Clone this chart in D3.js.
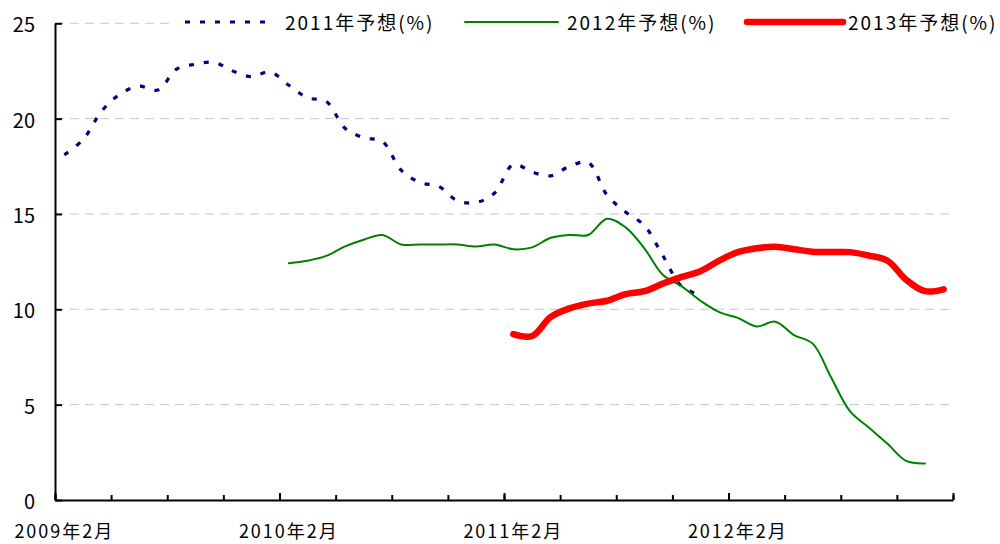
<!DOCTYPE html>
<html>
<head>
<meta charset="utf-8">
<script src="https://cdn.jsdelivr.net/npm/d3@7"></script>
<style>
  body { margin: 0; background: #fff; }
  text { font-family: "Noto Sans CJK JP", "Noto Sans", sans-serif; fill: #000; }
</style>
</head>
<body>
<svg id="chart" width="1000" height="544"></svg>
<script>
// months 2009年2月 .. 2013年1月 (one category per month)
var months = d3.timeMonth.range(new Date(2009, 1, 1), new Date(2013, 1, 1));
var xLabelIdx = [0, 12, 24, 36];
var yTicks = [0, 5, 10, 15, 20, 25];

var seriesNames = ["2011年予想(%)", "2012年予想(%)", "2013年予想(%)"];

// forecasts, first value is the first month that series appears
var f2011Start = 0;
var f2011 = [18.1, 18.9, 20.4, 21.3, 21.7, 21.5, 22.6, 22.85, 22.95, 22.5, 22.2, 22.45,
             21.75, 21.1, 20.9, 19.5, 19.0, 18.8, 17.3, 16.65, 16.45, 15.7, 15.6, 16.1,
             17.6, 17.2, 17.0, 17.5, 17.7, 16.0, 15.1, 14.4, 12.8, 11.2, 10.75];
var f2012Start = 12;
var f2012 = [12.42, 12.55, 12.8, 13.3, 13.65, 13.9, 13.4, 13.4, 13.4, 13.4, 13.3, 13.4,
             13.15, 13.25, 13.75, 13.9, 13.9, 14.75, 14.3, 13.2, 11.8, 11.2, 10.45, 9.85,
             9.55, 9.1, 9.35, 8.65, 8.2, 6.4, 4.65, 3.8, 2.95, 2.05, 1.92];
var f2013Start = 24;
var f2013 = [8.7, 8.6, 9.6, 10.05, 10.3, 10.45, 10.8, 10.95, 11.35, 11.7, 12.0, 12.55,
             13.0, 13.2, 13.28, 13.15, 13.02, 13.0, 13.0, 12.82, 12.55, 11.55, 10.95, 11.05];

var plotLeft = 55, plotRight = 953, plotTop = 23.3, plotBottom = 500;

var svg = d3.select("#chart");

// x: index of month, points at the middle of each month
var x = d3.scaleLinear().domain([0, months.length]).range([plotLeft, plotRight]);
var y = d3.scaleLinear().domain([0, 25]).range([plotBottom, plotTop]);

// grid lines
svg.append("g")
  .selectAll("line")
  .data(yTicks.filter(function(d) { return d > 0; }))
  .enter().append("line")
    .attr("x1", plotLeft).attr("x2", plotRight)
    .attr("y1", function(d) { return y(d); })
    .attr("y2", function(d) { return y(d); })
    .attr("stroke", "#c8c8c8")
    .attr("stroke-width", 1)
    .attr("stroke-dasharray", "9,6");

// lines
var line = d3.line()
  .defined(function(d) { return d != null; })
  .x(function(d, i) { return x(i + 0.5); })
  .y(function(d) { return y(d); })
  .curve(d3.curveCatmullRom.alpha(0.5));

function pad(start, vals) {
  var arr = months.map(function() { return null; });
  vals.forEach(function(v, i) { arr[start + i] = v; });
  return arr;
}

var series = [
  { name: seriesNames[0], values: pad(f2011Start, f2011), color: "#000080", width: 3.2, dash: "5,10", cap: "butt" },
  { name: seriesNames[1], values: pad(f2012Start, f2012), color: "#008000", width: 2, dash: null, cap: "round" },
  { name: seriesNames[2], values: pad(f2013Start, f2013), color: "#ff0000", width: 6.5, dash: null, cap: "round" }
];

series.forEach(function(s) {
  svg.append("path")
    .datum(s.values)
    .attr("d", line)
    .attr("fill", "none")
    .attr("stroke", s.color)
    .attr("stroke-width", s.width)
    .attr("stroke-linecap", s.cap)
    .attr("stroke-linejoin", "round")
    .attr("stroke-dasharray", s.dash);
});

// y axis, ticks pointing inward
var yAxis = svg.append("g")
  .attr("transform", "translate(" + plotLeft + ",0)")
  .call(d3.axisLeft(y).tickValues(yTicks).tickSize(-7).tickSizeOuter(0).tickPadding(20));
yAxis.select(".domain").attr("stroke", "#000").attr("stroke-width", 2);
yAxis.selectAll(".tick line").attr("stroke", "#000").attr("stroke-width", 2);
yAxis.selectAll(".tick text")
  .attr("font-size", 20)
  .attr("dy", "0.42em")
  .attr("fill", "#000")
  .style("font-family", "'Noto Sans CJK JP', sans-serif");

// x axis, quarter ticks (short) and year ticks (long)
var xAxis = svg.append("g")
  .attr("transform", "translate(0," + plotBottom + ")")
  .call(d3.axisBottom(x).tickValues(d3.range(0, months.length + 1, 3))
    .tickSize(-5).tickSizeOuter(0).tickFormat(""));
xAxis.select(".domain").attr("stroke", "#000").attr("stroke-width", 2);
xAxis.selectAll(".tick line").attr("stroke", "#000").attr("stroke-width", 2);

var xMajor = svg.append("g")
  .attr("transform", "translate(0," + plotBottom + ")")
  .call(d3.axisBottom(x).tickValues(d3.range(0, months.length + 1, 12))
    .tickSize(-7).tickSizeOuter(0).tickFormat(""));
xMajor.select(".domain").remove();
xMajor.selectAll(".tick line").attr("stroke", "#000").attr("stroke-width", 2);

var fmt = function(d) { return d.getFullYear() + "年" + (d.getMonth() + 1) + "月"; };
svg.append("g")
  .selectAll("text")
  .data(xLabelIdx)
  .enter().append("text")
    .attr("x", function(i) { return x(i + 0.5); })
    .attr("y", 538)
    .attr("text-anchor", "middle")
    .attr("font-size", 18)
    .attr("letter-spacing", 2)
    .text(function(i) { return fmt(months[i]); });

// legend
var legendItems = [
  { x1: 185, x2: 275, tx: 285 },
  { x1: 465, x2: 558, tx: 567 },
  { x1: 747, x2: 843, tx: 848 }
];

svg.append("rect")
  .attr("x", 172).attr("y", 10)
  .attr("width", 828).attr("height", 28)
  .attr("fill", "#fff");

var lg = svg.append("g")
  .selectAll("g")
  .data(series)
  .enter().append("g");

lg.append("line")
  .attr("x1", function(d, i) { return legendItems[i].x1; })
  .attr("x2", function(d, i) { return legendItems[i].x2; })
  .attr("y1", 22).attr("y2", 22)
  .attr("stroke", function(d) { return d.color; })
  .attr("stroke-width", function(d) { return d.width; })
  .attr("stroke-linecap", function(d) { return d.cap; })
  .attr("stroke-dasharray", function(d) { return d.dash; });

lg.append("text")
  .attr("x", function(d, i) { return legendItems[i].tx; })
  .attr("y", 30)
  .attr("font-size", 19)
  .attr("letter-spacing", 2)
  .text(function(d) { return d.name; });
</script>
</body>
</html>
